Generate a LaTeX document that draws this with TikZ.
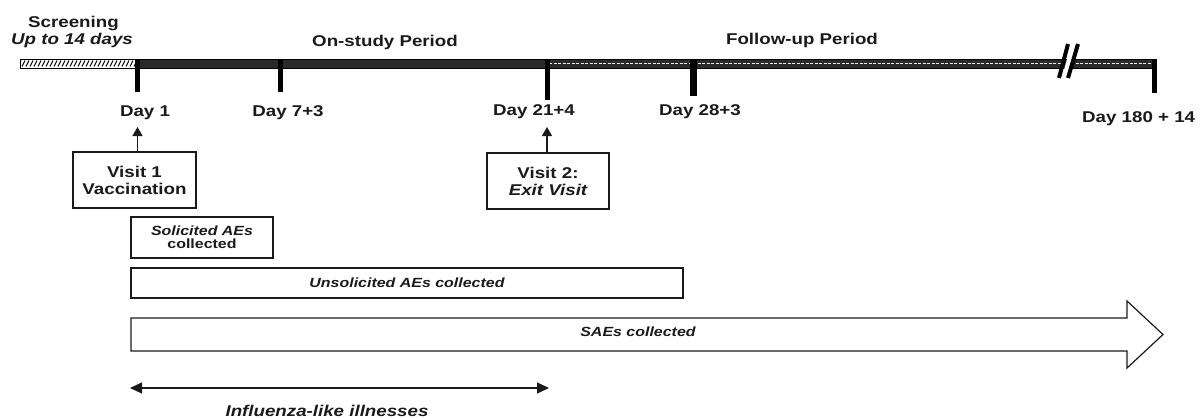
\documentclass[tikz,border=0pt]{standalone}
\usepackage{fontspec}
\setmainfont{Liberation Sans}[FakeStretch=1.2]
\usetikzlibrary{arrows.meta}
\definecolor{bardark}{HTML}{2A2A2A}
\definecolor{ink}{HTML}{1A1A1A}
\begin{document}
\begin{tikzpicture}[x=1pt,y=-1pt,
  big/.style={font=\fontsize{15.6}{17}\selectfont\bfseries},
  small/.style={font=\fontsize{13.3}{13}\selectfont\bfseries},
  lbl/.style={big, anchor=base, inner sep=0pt, text=ink},
  slbl/.style={small, anchor=base, inner sep=0pt, text=ink},
  boxA/.style={draw=ink, line width=1.2pt, align=center, inner sep=0pt, text=ink},
  tickmark/.style={line width=5pt, draw=black},
  arr/.style={draw=ink, line width=1.2pt, -{Triangle[length=9pt,width=10pt]}},
  darr/.style={draw=ink, line width=1.2pt, {Triangle[length=12pt,width=11pt]}-{Triangle[length=12pt,width=11pt]}}
]
\useasboundingbox (0,0) rectangle (1201,418);

% ---------- timeline bar ----------
\coordinate (b0) at (20,59);
\coordinate (d1) at (137,59);
\coordinate (d7) at (280,59);
\coordinate (d21) at (547,59);
\coordinate (d28) at (693,59);
\coordinate (d180) at (1154,59);

% screening (hatched)
\begin{scope}
  \clip (20,59) rectangle (137,68);
  \fill[white] (20,59) rectangle (137,68);
  \foreach \x in {18,22,...,140} \draw[black, line width=1pt] (\x,66.5) -- (\x+3,60.5);
\end{scope}
\draw[black, line width=0.8pt] (20,59) rectangle (137,68);
% on-study (dark)
\filldraw[fill=bardark, draw=black, line width=0.8pt] (137,59) rectangle (547,68);
% follow-up (dark with light dashes)
\filldraw[fill=bardark, draw=black, line width=0.8pt] (547,59) rectangle (1154,68);
\draw[white!85!gray, line width=1.6pt, dash pattern=on 3pt off 1.5pt] (549,63.5) -- (1152,63.5);

% break marks
\fill[white] (1062,77) -- (1071,45) -- (1076,45) -- (1067,77) -- cycle;
\draw[black, line width=4pt] (1059,78) -- (1068,44);
\draw[black, line width=4pt] (1068,78) -- (1078,44);

% ticks
\draw[tickmark] (d1) -- ++(0,33);
\draw[tickmark] (d7) -- ++(0,33);
\draw[tickmark] (d21) -- ++(0,41);
\draw[tickmark, line width=7pt] (d28) -- ++(0,37);
\draw[tickmark] (d180) -- ++(0,34);

% ---------- period labels ----------
\node[lbl, anchor=base west] (scr) at (28,27) {Screening};
\node[lbl, anchor=base west] (scrdays) at (11,44) {\itshape Up to 14 days};
\node[lbl] (onstudy) at (385,46) {On-study Period};
\node[lbl] (followup) at (802,44) {Follow-up Period};

% ---------- day labels ----------
\node[lbl] (lday1) at (145,116) {Day 1};
\node[lbl] (lday7) at (288,116) {Day 7+3};
\node[lbl] (lday21) at (534,115) {Day 21+4};
\node[lbl] (lday28) at (700,115) {Day 28+3};
\node[lbl, anchor=base west] (lday180) at (1082,122) {Day 180 + 14};

% ---------- visit boxes ----------
\node[boxA, big, minimum width=123pt, minimum height=56pt] (v1) at (134.5,180) {Visit 1\\Vaccination};
\node[boxA, big, minimum width=122pt, minimum height=56pt] (v2) at (548,181) {Visit 2:\\\itshape Exit Visit};
\coordinate (v1tip) at (137.5,127);
\coordinate (v2tip) at (547,127);
\draw[arr] (v1.north -| v1tip) -- (v1tip);
\draw[arr] (v2.north -| v2tip) -- (v2tip);

% ---------- collection boxes ----------
\node[boxA, small, minimum width=142pt, minimum height=41pt] (sol) at (202,237.5) {\itshape Solicited AEs\\collected};
\node[boxA, small, minimum width=552pt, minimum height=30pt] (unsol) at (407,283) {\itshape Unsolicited AEs collected};

% SAE block arrow
\draw[ink, line width=1.2pt, line join=miter] (131,318) -- (1127,318) -- (1127,301) -- (1163,334.5) -- (1127,368) -- (1127,351) -- (131,351) -- cycle;
\node[slbl] (sae) at (638,336) {\itshape SAEs collected};

% influenza-like illnesses
\coordinate (ilA) at (130,388);
\coordinate (ilB) at (549,388);
\draw[darr] (ilA) -- (ilB);
\node[lbl] (ili) at (327,416) {\itshape Influenza-like illnesses};
\end{tikzpicture}
\end{document}
